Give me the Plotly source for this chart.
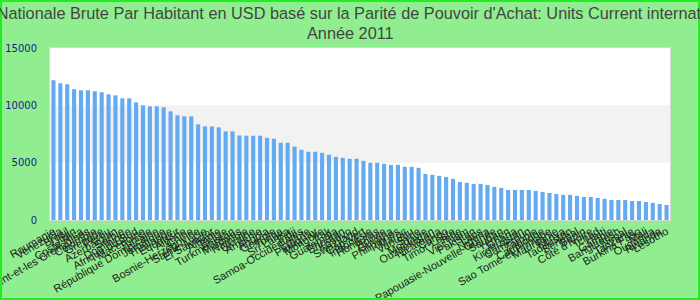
import plotly.graph_objects as go

countries = [
    "Roumanie", "Venezuela", "Brésil", "Liban", "Costa Rica", "Saint-Vincent-et-les Grenadines",
    "Colombie", "Grenade", "Pérou", "Azerbaïdjan", "Serbie", "Dominique", "Afrique du Sud",
    "Macédoine", "Tunisie", "République Dominicaine", "Jamaïque", "Thaïlande", "Équateur",
    "Algérie", "Chine", "Bosnie-Herzégovine", "Sainte-Lucie", "El Salvador", "Albanie",
    "Belize", "Turkménistan", "Maldives", "Namibie", "Ukraine", "Arménie", "Angola",
    "Géorgie", "Tonga", "Sri Lanka", "Fidji", "Samoa-Occidentales", "Égypte", "Paraguay",
    "Mongolie", "Irak", "Guatemala", "Bhoutan", "Kosovo", "Swaziland", "Cap-Vert",
    "Indonésie", "Honduras", "Bolivie", "Guyana", "Philippines", "Maroc", "Vanuatu",
    "Syrie", "Moldavie", "Ouzbékistan", "Nicaragua", "Congo", "Timor-Leste", "Inde",
    "Viêt Nam", "Pakistan", "Laos", "Nigéria", "Papouasie-Nouvelle-Guinée", "Soudan",
    "Yémen", "Ghana", "Kirghizistan", "Cameroun", "Zambie", "Cambodge",
    "Sao Tome-et-Principe", "Mauritanie", "Kenya", "Tadjikistan", "Sénégal", "Bénin",
    "Côte d'Ivoire", "Tchad", "Haïti", "Gambie", "Bangladesh", "Népal", "Tanzanie",
    "Burkina Faso", "Mali", "Ouganda", "Rwanda", "Lesotho",
]

values = [
    12190, 11920, 11840, 11400, 11310, 11310, 11220, 11140, 10960, 10870,
    10610, 10610, 10260, 10000, 9910, 9910, 9830, 9480, 9130, 9040,
    9040, 8340, 8160, 8160, 8080, 7730, 7730, 7370, 7350, 7350,
    7350, 7170, 7090, 6740, 6740, 6390, 6120, 5950, 5950, 5860,
    5690, 5510, 5420, 5340, 5340, 5160, 4990, 4990, 4900, 4810,
    4810, 4640, 4640, 4550, 4020, 3940, 3850, 3760, 3590, 3320,
    3240, 3150, 3150, 3060, 2890, 2800, 2620, 2620, 2620, 2620,
    2540, 2450, 2360, 2270, 2190, 2190, 2100, 2010, 2010, 1920,
    1840, 1750, 1750, 1750, 1660, 1660, 1570, 1490, 1400, 1310,
]

y_ticks = [0, 5000, 10000, 15000]

title_line1 = ("Revenu Nationale Brute Par Habitant en USD basé sur la Parité de Pouvoir "
               "d'Achat: Units Current international $")
title_line2 = "Année 2011"

L, R, T, B = 50, 30, 48, 80
PW, PH = 700 - L - R, 300 - T - B


def py(pix):
    return (300 - B - pix) / PH


def px(pix):
    return (pix - L) / PW


fig = go.Figure()
fig.add_trace(go.Bar(
    x=countries, y=values,
    marker=dict(color="#64aaf0", line=dict(width=0)),
    hoverinfo="x+y",
))

title_font = dict(family="Liberation Sans, Arial, sans-serif", size=16.3, color="#444444")

fig.update_layout(
    width=700, height=300,
    margin=dict(l=L, r=R, t=T, b=B, pad=0, autoexpand=False),
    paper_bgcolor="#90ee90",
    plot_bgcolor="#ffffff",
    showlegend=False,
    bargap=0.4,
    xaxis=dict(
        tickmode="array", tickvals=countries, ticktext=countries, automargin=False,
        tickangle=-30, tickfont=dict(family="Liberation Sans, Arial", size=11, color="#222222"),
        showgrid=False, ticks="", showline=True, linecolor="#d8d8d8", linewidth=1,
        mirror=True, zeroline=False,
    ),
    yaxis=dict(
        range=[0, 15000], tickvals=y_ticks, ticktext=[str(v) for v in y_ticks],
        automargin=False,
        tickfont=dict(family="DejaVu Sans", size=10, color="#1a1a8c"),
        showgrid=False, zeroline=False, showline=True, linecolor="#d8d8d8",
        linewidth=1, mirror=True, ticks="outside", ticklen=10, tickcolor="rgba(0,0,0,0)",
    ),
    annotations=[
        dict(text=title_line1, x=px(342), y=py(12.5), xref="paper", yref="paper",
             xanchor="center", yanchor="middle", showarrow=False, font=title_font),
        dict(text=title_line2, x=px(350), y=py(32.5), xref="paper", yref="paper",
             xanchor="center", yanchor="middle", showarrow=False, font=title_font),
    ],
    shapes=[
        dict(type="rect", xref="paper", yref="y", x0=0, x1=1, y0=5000, y1=10000,
             fillcolor="#f2f2f2", line=dict(width=0), layer="below"),
        dict(type="rect", xref="paper", yref="paper",
             x0=px(1), x1=px(699), y0=py(299), y1=py(1),
             fillcolor="rgba(0,0,0,0)", line=dict(color="#22ee22", width=2), layer="above"),
    ],
)

fig.write_html("out.html")
